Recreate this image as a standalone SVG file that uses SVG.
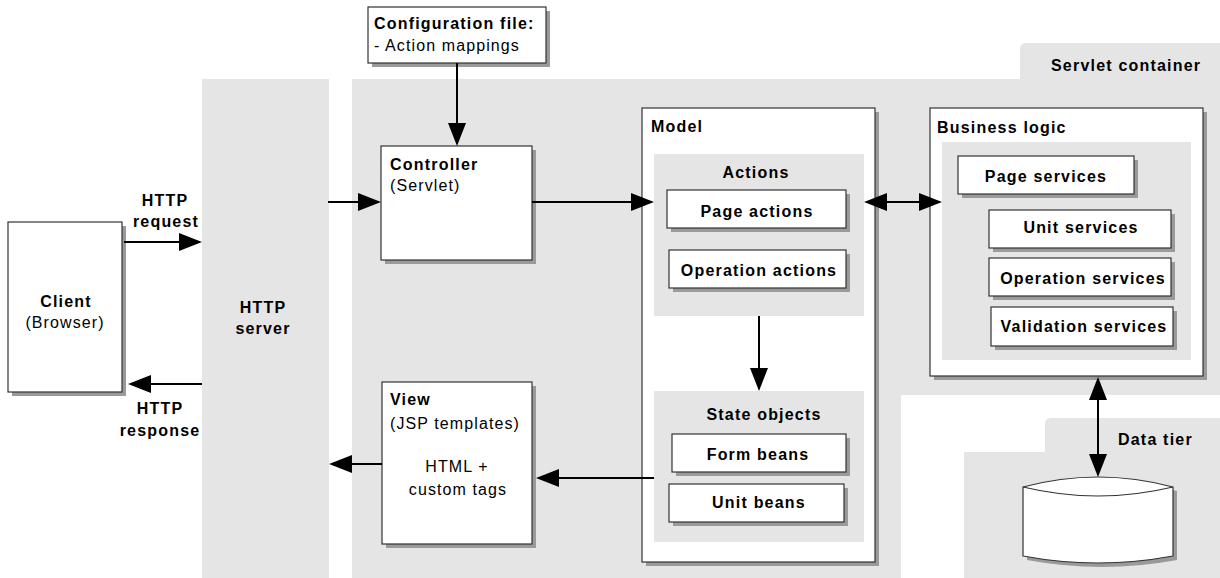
<svg xmlns="http://www.w3.org/2000/svg" width="1220" height="578" viewBox="0 0 1220 578">
<style>
.bg{fill:#e5e5e5}
.box{fill:#fff;stroke:#333;stroke-width:1.2}
.sh{fill:#9a9a9a}
.b{font-family:"Liberation Sans",Arial,sans-serif;font-size:16px;font-weight:bold;letter-spacing:1.2px;fill:#000}
.r{font-family:"Liberation Sans",Arial,sans-serif;font-size:16px;letter-spacing:1.1px;fill:#000}
.m{text-anchor:middle}
.ln{stroke:#000;stroke-width:2;fill:none}
</style>
<defs>
<marker id="ah" markerUnits="userSpaceOnUse" markerWidth="24" markerHeight="20" refX="18" refY="9" orient="auto-start-reverse" viewBox="0 0 24 20">
<path d="M0,0 L23,9 L0,18 Z" fill="#000"/>
</marker>
</defs>
<rect width="1220" height="578" fill="#fff"/>

<g id="http-server">
<rect class="bg" x="202" y="79" width="127" height="499"/>
<text class="b m" x="263" y="313">HTTP</text>
<text class="b m" x="263" y="334">server</text>
</g>

<g id="servlet-container">
<path class="bg" d="M352,79 H1020 V49 Q1020,43 1026,43 H1220 V395 H901 V578 H352 Z"/>
<text class="b" x="1051" y="71">Servlet container</text>
</g>

<g id="data-tier">
<path class="bg" d="M964,452 H1045 V424 Q1045,418 1051,418 H1220 V578 H964 Z"/>
<text class="b" x="1118" y="445">Data tier</text>
</g>

<g id="config">
<rect class="sh" x="372" y="11" width="178" height="56"/>
<rect class="box" x="368" y="7" width="178" height="56"/>
<text class="b" x="374" y="29">Configuration file:</text>
<text class="r" x="374" y="51">- Action mappings</text>
</g>

<g id="client">
<rect class="sh" x="12" y="226" width="114" height="170"/>
<rect class="box" x="8" y="222" width="114" height="170"/>
<text class="b m" x="66" y="307">Client</text>
<text class="r m" x="65" y="328">(Browser)</text>
</g>

<g id="controller">
<rect class="sh" x="385" y="150" width="151" height="114"/>
<rect class="box" x="381" y="146" width="151" height="114"/>
<text class="b" x="390" y="170">Controller</text>
<text class="r" x="390" y="191">(Servlet)</text>
</g>

<g id="view">
<rect class="sh" x="386" y="386" width="150" height="162"/>
<rect class="box" x="382" y="382" width="150" height="162"/>
<text class="b" x="390" y="405">View</text>
<text class="r" x="390" y="429">(JSP templates)</text>
<text class="r m" x="457" y="472">HTML +</text>
<text class="r m" x="458" y="495">custom tags</text>
</g>

<g id="model">
<rect class="sh" x="646" y="112" width="233" height="454"/>
<rect class="box" x="642" y="108" width="233" height="454"/>
<text class="b" x="651" y="132">Model</text>
</g>

<g id="actions">
<rect class="bg" x="654" y="154" width="210" height="162"/>
<text class="b m" x="756" y="178">Actions</text>
</g>
<g id="page-actions">
<rect class="sh" x="671" y="194" width="179" height="38"/>
<rect class="box" x="667" y="190" width="179" height="38"/>
<text class="b m" x="757" y="217">Page actions</text>
</g>
<g id="operation-actions">
<rect class="sh" x="673" y="254" width="177" height="38"/>
<rect class="box" x="669" y="250" width="177" height="38"/>
<text class="b m" x="759" y="276">Operation actions</text>
</g>

<g id="state-objects">
<rect class="bg" x="654" y="391" width="210" height="151"/>
<text class="b m" x="764" y="420">State objects</text>
</g>
<g id="form-beans">
<rect class="sh" x="676" y="438" width="174" height="38"/>
<rect class="box" x="672" y="434" width="174" height="38"/>
<text class="b m" x="758" y="460">Form beans</text>
</g>
<g id="unit-beans">
<rect class="sh" x="673" y="488" width="175" height="38"/>
<rect class="box" x="669" y="484" width="175" height="38"/>
<text class="b m" x="759" y="508">Unit beans</text>
</g>

<g id="business-logic">
<rect class="sh" x="934" y="112" width="273" height="268"/>
<rect class="box" x="930" y="108" width="273" height="268"/>
<text class="b" x="937" y="133">Business logic</text>
<rect class="bg" x="942" y="142" width="249" height="218"/>
</g>
<g id="page-services">
<rect class="sh" x="962" y="160" width="176" height="38"/>
<rect class="box" x="958" y="156" width="176" height="38"/>
<text class="b m" x="1046" y="182">Page services</text>
</g>
<g id="unit-services">
<rect class="sh" x="993" y="214" width="182" height="38"/>
<rect class="box" x="989" y="210" width="182" height="38"/>
<text class="b m" x="1081" y="233">Unit services</text>
</g>
<g id="operation-services">
<rect class="sh" x="993" y="262" width="182" height="38"/>
<rect class="box" x="989" y="258" width="182" height="38"/>
<text class="b m" x="1083" y="284">Operation services</text>
</g>
<g id="validation-services">
<rect class="sh" x="995" y="311" width="182" height="39"/>
<rect class="box" x="991" y="307" width="182" height="39"/>
<text class="b m" x="1084" y="332">Validation services</text>
</g>

<g id="database">
<path class="sh" d="M1027,491 Q1102,471 1177,491 V560 Q1102,574 1027,560 Z"/>
<path class="box" d="M1023,487 Q1098,467 1173,487 V556 Q1098,570 1023,556 Z"/>
<path class="box" d="M1023,487 Q1098,505 1173,487" fill="none"/>
</g>

<g id="labels">
<text class="b m" x="165" y="206">HTTP</text>
<text class="b m" x="166" y="227">request</text>
<text class="b m" x="160" y="414">HTTP</text>
<text class="b m" x="160" y="436">response</text>
</g>

<g id="connectors">
<line class="ln" x1="457" y1="63" x2="457" y2="141" marker-end="url(#ah)"/>
<line class="ln" x1="124" y1="242" x2="197" y2="242" marker-end="url(#ah)"/>
<line class="ln" x1="328" y1="202" x2="376" y2="202" marker-end="url(#ah)"/>
<line class="ln" x1="532" y1="202" x2="649" y2="202" marker-end="url(#ah)"/>
<line class="ln" x1="869" y1="202" x2="937" y2="202" marker-start="url(#ah)" marker-end="url(#ah)"/>
<line class="ln" x1="759" y1="316" x2="759" y2="386" marker-end="url(#ah)"/>
<line class="ln" x1="654" y1="478" x2="541" y2="478" marker-end="url(#ah)"/>
<line class="ln" x1="202" y1="384" x2="133" y2="384" marker-end="url(#ah)"/>
<line class="ln" x1="382" y1="464" x2="334" y2="464" marker-end="url(#ah)"/>
<line class="ln" x1="1098" y1="382" x2="1098" y2="472" marker-start="url(#ah)" marker-end="url(#ah)"/>
</g>
</svg>
